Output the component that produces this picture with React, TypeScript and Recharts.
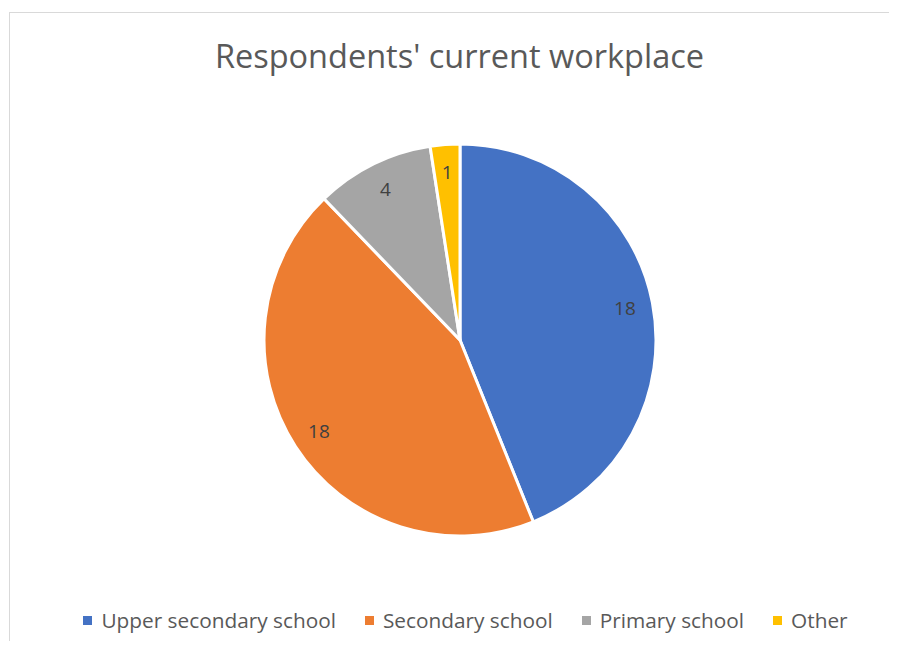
import { PieChart, Pie, Cell, Legend } from 'recharts'

const categories = ['Upper secondary school', 'Secondary school', 'Primary school', 'Other']
const counts = [18, 18, 4, 1]
const COLORS = ['#4472C4', '#ED7D31', '#A5A5A5', '#FFC000']

const data = categories.map((name, i) => ({ name, value: counts[i] }))

const FONT = '"Open Sans", "Noto Sans", sans-serif'
const RAD = Math.PI / 180

const renderLabel = (props: any) => {
  const { cx, cy, midAngle, value } = props
  const r = 168
  const x = cx + r * Math.cos(-midAngle * RAD)
  const y = cy + r * Math.sin(-midAngle * RAD)
  return (
    <text
      x={x}
      y={y}
      fill="#404040"
      fontSize={19}
      fontFamily={FONT}
      textAnchor="middle"
      dominantBaseline="central"
    >
      {value}
    </text>
  )
}

const renderLegend = () => (
  <div style={{ display: 'flex', justifyContent: 'center', alignItems: 'center', fontFamily: FONT, fontSize: 20.8, color: '#595959' }}>
    {categories.map((c, i) => (
      <div key={c} style={{ display: 'flex', alignItems: 'center', marginRight: i < categories.length - 1 ? 29 : 0 }}>
        <div style={{ width: 9, height: 9, background: COLORS[i], marginRight: 9 }} />
        <span>{c}</span>
      </div>
    ))}
  </div>
)

export default function App() {
  return (
    <div style={{ margin: -8, width: 897, height: 649, position: 'relative', overflow: 'hidden', background: '#fff' }}>
      <div
        style={{
          position: 'absolute',
          left: 9,
          top: 12,
          width: 900,
          height: 700,
          border: '1px solid #D9D9D9',
        }}
      />
      <div
        style={{
          position: 'absolute',
          left: 0,
          width: 919,
          top: 33,
          textAlign: 'center',
          fontFamily: FONT,
          fontSize: 32.5,
          color: '#595959',
        }}
      >
        Respondents' current workplace
      </div>
      <div style={{ position: 'absolute', left: 0, top: 0 }}>
        <PieChart width={897} height={649} margin={{ top: 0, right: 0, bottom: 0, left: 0 }}>
          <Pie
            data={data}
            dataKey="value"
            nameKey="name"
            cx={460}
            cy={340}
            outerRadius={196}
            startAngle={90}
            endAngle={-270}
            stroke="#fff"
            strokeWidth={3}
            label={renderLabel}
            labelLine={false}
            isAnimationActive={false}
          >
            {data.map((d, i) => (
              <Cell key={d.name} fill={COLORS[i]} />
            ))}
          </Pie>
          <Legend
            content={renderLegend}
            wrapperStyle={{ position: 'absolute', left: 0, width: 931, top: 606 }}
          />
        </PieChart>
      </div>
    </div>
  )
}
